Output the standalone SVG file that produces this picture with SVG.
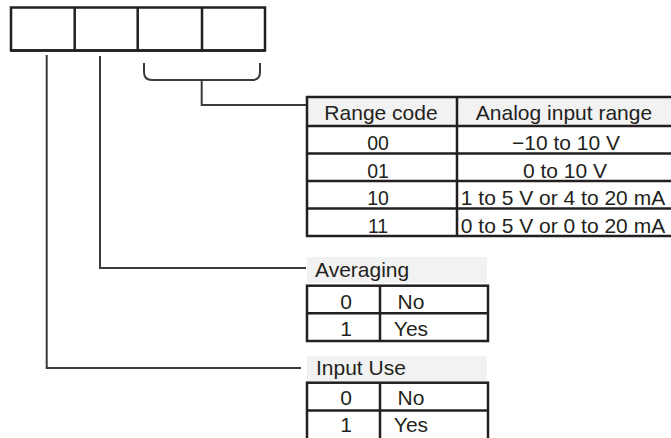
<svg xmlns="http://www.w3.org/2000/svg" width="671" height="438" viewBox="0 0 671 438">
<style>
  .box { fill: none; stroke: #231f20; stroke-width: 2.5; }
  .tl { stroke: #231f20; stroke-width: 2.5; fill: none; }
  .conn { stroke: #3a3a3a; stroke-width: 2; fill: none; }
  .hdr { fill: #f2f2f2; }
  text { font-family: "Liberation Sans", Arial, sans-serif; font-size: 21px; fill: #231f20; }
  .c { text-anchor: middle; }
  .code { font-size: 19.5px; }
</style>
<rect width="671" height="438" fill="#ffffff"/>

<g id="register">
  <rect class="box" x="11" y="7.5" width="254" height="43"/>
  <line class="tl" x1="11" y1="50.5" x2="265" y2="50.5" stroke-width="3.2"/>
  <line class="tl" x1="74.7" y1="7.5" x2="74.7" y2="50.5"/>
  <line class="tl" x1="137.7" y1="7.5" x2="137.7" y2="50.5"/>
  <line class="tl" x1="202" y1="7.5" x2="202" y2="50.5"/>
</g>

<g id="connectors">
  <path class="conn" d="M144 63 V72 Q144 80 152 80 H252 Q260 80 260 72 V63"/>
  <path class="conn" d="M201.7 80 V105 H307"/>
  <path class="conn" d="M100 56 V268 H306"/>
  <path class="conn" d="M46.7 55 V368 H301"/>
</g>

<g id="range-table">
  <rect class="hdr" x="307" y="97" width="364" height="29"/>
  <rect class="tl" x="307" y="97" width="370" height="139"/>
  <line class="tl" x1="307" y1="126" x2="671" y2="126"/>
  <line class="tl" x1="307" y1="153.5" x2="671" y2="153.5"/>
  <line class="tl" x1="307" y1="181" x2="671" y2="181"/>
  <line class="tl" x1="307" y1="208.5" x2="671" y2="208.5"/>
  <line class="tl" x1="457" y1="97" x2="457" y2="236"/>
  <text class="c" x="381" y="120">Range code</text>
  <text class="c" x="564" y="120">Analog input range</text>
  <text class="c code" x="378" y="150">00</text>
  <text class="c code" x="378" y="177.5">01</text>
  <text class="c code" x="378" y="205">10</text>
  <text class="c code" x="378" y="232.5">11</text>
  <text class="c" x="566" y="150">−10 to 10 V</text>
  <text class="c" x="565" y="177.5">0 to 10 V</text>
  <text class="c" x="563" y="205">1 to 5 V or 4 to 20 mA</text>
  <text class="c" x="563" y="232.5">0 to 5 V or 0 to 20 mA</text>
</g>

<g id="averaging">
  <rect class="hdr" x="307" y="257" width="180" height="26"/>
  <text x="315" y="277">Averaging</text>
  <rect class="tl" x="307" y="285.7" width="181" height="55.3"/>
  <line class="tl" x1="307" y1="313.3" x2="488" y2="313.3"/>
  <line class="tl" x1="380" y1="285.7" x2="380" y2="341"/>
  <text class="c" x="346" y="308.5">0</text>
  <text class="c" x="411" y="308.5">No</text>
  <text class="c" x="346" y="336">1</text>
  <text class="c" x="411" y="336">Yes</text>
</g>

<g id="input-use">
  <rect class="hdr" x="307" y="356" width="180" height="25"/>
  <text x="316" y="375">Input Use</text>
  <rect class="tl" x="307" y="382.7" width="181" height="58"/>
  <line class="tl" x1="307" y1="410.5" x2="488" y2="410.5"/>
  <line class="tl" x1="380" y1="382.7" x2="380" y2="440"/>
  <text class="c" x="346" y="404.5">0</text>
  <text class="c" x="411" y="404.5">No</text>
  <text class="c" x="346" y="432">1</text>
  <text class="c" x="411" y="432">Yes</text>
</g>
</svg>
